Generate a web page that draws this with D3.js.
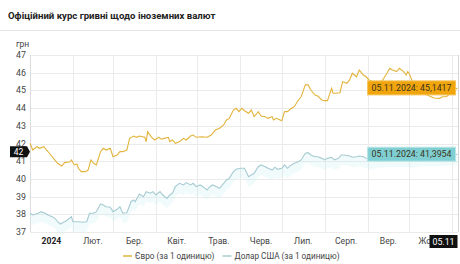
<!DOCTYPE html>
<html>
<head>
<meta charset="utf-8">
<script src="https://cdn.jsdelivr.net/npm/d3@7"></script>
<style>
  body { margin: 0; background: #fff; }
  svg { display: block; font-family: Roboto, "Noto Sans", sans-serif; }
</style>
</head>
<body>
<div id="chart"></div>
<script>
// офіційний курс НБУ, читано з графіка
const eurDates = ["01-01","01-03","01-06","01-08","01-11","01-13","01-15","01-18","01-21","01-24","01-26","01-30","01-31",
  "02-02","02-04","02-05","02-07","02-10","02-12","02-14","02-16","02-18","02-21","02-23","02-25","02-28",
  "03-01","03-04","03-06","03-08","03-11","03-13","03-16","03-18","03-20","03-24","03-25","03-26","03-29","03-31",
  "04-03","04-05","04-07","04-10","04-11","04-13","04-15","04-18","04-21","04-23","04-26","04-28","04-30",
  "05-04","05-08","05-11","05-14","05-17","05-20","05-22","05-24","05-27","05-29","05-31",
  "06-02","06-04","06-07","06-09","06-11","06-14","06-16","06-19","06-21","06-24","06-25","06-27",
  "07-01","07-03","07-05","07-08","07-10","07-13","07-15","07-18","07-20","07-22","07-25","07-27","07-30",
  "08-01","08-03","08-06","08-07","08-09","08-12","08-14","08-17","08-19","08-21","08-24","08-26","08-29","08-31",
  "09-02","09-05","09-08","09-11","09-15","09-17","09-19","09-22","09-24","09-27","09-29","09-30",
  "10-01","10-03","10-06","10-10","10-14","10-19","10-23","10-25","10-28","10-31","11-03","11-05"];
const eurValues = [42.01,41.63,41.82,41.73,41.82,41.63,41.45,41.16,40.88,40.73,40.92,40.97,41.07,
  40.79,40.84,40.60,40.41,40.41,40.50,41.07,40.88,40.79,41.54,41.73,41.63,41.73,
  41.25,41.35,41.54,41.54,41.63,42.29,42.42,42.35,42.42,42.35,42.10,42.67,42.35,42.20,
  42.35,42.24,42.29,42.35,42.10,42.20,42.01,42.10,42.29,42.20,42.42,42.48,42.35,
  42.38,42.35,42.48,42.76,42.86,43.05,43.33,43.42,43.89,43.99,43.80,
  43.99,43.85,43.71,43.89,43.51,43.80,43.55,43.51,43.42,43.51,43.33,43.42,
  43.29,43.80,43.80,43.99,44.08,44.46,44.64,45.31,45.31,45.02,44.74,44.68,44.46,
  44.42,44.42,45.12,44.84,44.84,44.87,45.49,45.40,45.59,45.97,45.77,46.15,45.87,45.77,
  45.59,45.49,45.36,45.47,45.97,46.25,46.15,46.06,46.25,46.06,45.87,46.06,
  45.97,45.59,45.14,44.91,44.74,44.57,44.55,44.64,44.64,44.84,45.02,45.1417];

const usdDates = ["01-01","01-03","01-07","01-09","01-12","01-14","01-17","01-19","01-21","01-23","01-26","01-28","01-31",
  "02-01","02-05","02-08","02-11","02-13","02-16","02-18","02-21","02-23","02-25","02-28",
  "03-01","03-04","03-06","03-08","03-11","03-14","03-16","03-17","03-19","03-20","03-23","03-25","03-28","03-30",
  "04-01","04-04","04-06","04-09","04-11","04-13","04-15","04-18","04-21","04-23","04-26","04-28","04-30",
  "05-03","05-05","05-08","05-10","05-12","05-15","05-17","05-20","05-22","05-24","05-27","05-29",
  "06-01","06-04","06-07","06-09","06-11","06-14","06-16","06-19","06-21","06-24","06-26","06-28",
  "07-01","07-03","07-05","07-08","07-10","07-13","07-15","07-18","07-20","07-22","07-25","07-27","07-30",
  "08-01","08-03","08-06","08-08","08-11","08-13","08-15","08-19","08-21","08-24","08-26","08-29","08-31",
  "09-02","09-09","09-17","09-25","10-03","10-11","10-19","10-27","11-05"];
const usdValues = [38.06,37.96,38.06,38.15,38.06,37.96,37.86,37.77,37.58,37.45,37.58,37.68,37.86,
  37.58,37.58,37.55,37.58,38.06,38.06,38.15,38.58,38.53,38.43,38.40,
  38.15,38.28,38.43,38.06,38.09,38.71,38.81,38.71,38.99,39.15,38.99,39.28,39.19,39.28,
  39.09,39.28,39.09,38.90,39.09,39.19,39.56,39.75,39.66,39.79,39.66,39.75,39.56,
  39.66,39.56,39.37,39.56,39.66,39.56,39.47,39.75,39.94,40.03,40.41,40.54,
  40.60,40.60,40.12,40.22,40.32,40.69,40.79,40.69,40.60,40.50,40.66,40.54,
  40.60,40.79,40.60,40.79,40.88,40.97,41.07,41.45,41.48,41.35,41.25,41.25,41.16,
  41.07,41.16,41.22,41.07,41.16,41.35,41.35,41.29,41.22,41.25,41.29,41.25,41.16,
  41.07,41.20,41.22,41.25,41.20,41.28,41.25,41.30,41.3954];

const monthLabels = ["2024","Лют.","Бер.","Квіт.","Трав.","Черв.","Лип.","Серп.","Вер.","Жовт."];
const yTicks = [37,38,39,40,41,42,43,44,45,46,47];
const seriesNames = ["Євро (за 1 одиницю)", "Долар США (за 1 одиницю)"];
const crosshairValue = 41.54;

const width = 460, height = 264;
const mLeft = 30, mRight = 457.5, mTop = 55, mBottom = 232;
const eurColor = "#e2b43c", usdColor = "#a6cbd2";

const parse = d3.timeParse("%Y-%m-%d");
const eur = eurDates.map((d, i) => ({date: parse("2024-" + d), v: eurValues[i]}));
const usd = usdDates.map((d, i) => ({date: parse("2024-" + d), v: usdValues[i]}));
const lastDate = parse("2024-11-05");

const x = d3.scaleTime().domain([parse("2024-01-01"), lastDate]).range([mLeft, mRight]);
const y = d3.scaleLinear().domain([37, 47]).range([mBottom, mTop]);

const svg = d3.select("#chart").append("svg")
    .attr("width", width).attr("height", height);

// title
svg.append("text")
    .attr("x", 8).attr("y", 19)
    .attr("font-size", 9.6).attr("font-weight", "bold").attr("fill", "#222")
    .text("Офіційний курс гривні щодо іноземних валют");
svg.append("line")
    .attr("x1", 0).attr("x2", width).attr("y1", 30.5).attr("y2", 30.5)
    .attr("stroke", "#e6e6e6");

// grid
const months = d3.timeMonth.range(parse("2024-01-01"), lastDate);
svg.append("g").selectAll("line")
  .data(yTicks).enter().append("line")
    .attr("x1", mLeft).attr("x2", mRight + 0.5)
    .attr("y1", d => Math.round(y(d)) + 0.5).attr("y2", d => Math.round(y(d)) + 0.5)
    .attr("stroke", "#ebebeb");
svg.append("g").selectAll("line")
  .data(months).enter().append("line")
    .attr("x1", d => Math.round(x(d)) + 0.5).attr("x2", d => Math.round(x(d)) + 0.5)
    .attr("y1", mTop).attr("y2", mBottom)
    .attr("stroke", (d, i) => i == 0 ? "#dcdcdc" : "#ebebeb");

// y labels
svg.append("text")
    .attr("x", 16).attr("y", 47)
    .attr("font-size", 8.5).attr("fill", "#444")
    .text("грн");
svg.append("g").selectAll("text")
  .data(yTicks).enter().append("text")
    .attr("x", 26).attr("y", d => y(d)).attr("dy", "0.35em")
    .attr("text-anchor", "end").attr("font-size", 8.8).attr("fill", "#444")
    .text(d => d);

// x labels (centred in month)
svg.append("g").selectAll("text")
  .data(months.slice(0, monthLabels.length)).enter().append("text")
    .attr("x", d => (x(d) + x(d3.timeMonth.offset(d, 1))) / 2)
    .attr("y", 244)
    .attr("text-anchor", "middle").attr("font-size", 8.6)
    .attr("font-weight", (d, i) => i == 0 ? "bold" : "normal")
    .attr("fill", (d, i) => i == 0 ? "#222" : "#444")
    .text((d, i) => monthLabels[i]);

// soft band under the dollar line
const band = d3.area().x(d => x(d.date)).y1(d => y(d.v)).y0(d => y(d.v) + 10);
svg.append("path").datum(usd).attr("d", band).attr("fill", "#c4ecf2").attr("opacity", 0.22);

// lines
const line = d3.line().x(d => x(d.date)).y(d => y(d.v));
svg.append("path").datum(usd).attr("d", line)
    .attr("fill", "none").attr("stroke", usdColor).attr("stroke-width", 1.1);
svg.append("path").datum(eur).attr("d", line)
    .attr("fill", "none").attr("stroke", eurColor).attr("stroke-width", 1.1);

// crosshair
svg.append("line")
    .attr("x1", Math.round(x(lastDate)) + 0.5).attr("x2", Math.round(x(lastDate)) + 0.5)
    .attr("y1", mTop).attr("y2", mBottom)
    .attr("stroke", "#d6d6d6");

// value tooltips
const fmt = v => d3.format(".4f")(v).replace(".", ",");
const fmtDate = d3.timeFormat("%d.%m.%Y");
function tip(data, fill, stroke) {
  const last = data[data.length - 1];
  const g = svg.append("g");
  const t = g.append("text")
      .attr("y", y(last.v)).attr("dy", "0.35em")
      .attr("font-size", 8.8).attr("fill", "#3a3320")
      .text(fmtDate(last.date) + ": " + fmt(last.v));
  const w = t.node().getComputedTextLength() + 8;
  const x1 = x(last.date) - 2;
  g.insert("rect", "text")
      .attr("x", x1 - w).attr("y", y(last.v) - 7)
      .attr("width", w).attr("height", 14)
      .attr("fill", fill).attr("stroke", stroke);
  t.attr("x", x1 - w + 4);
}
tip(eur, "#f0a50c", "#f6c35a");
tip(usd, "#7fcfd2", "#b9e5e7");

// crosshair labels
const cy = y(crosshairValue);
svg.append("path")
    .attr("d", `M10,${cy - 5.5}H27L30,${cy}L27,${cy + 5.5}H10Z`)
    .attr("fill", "#111");
svg.append("text")
    .attr("x", 18.5).attr("y", cy).attr("dy", "0.35em")
    .attr("text-anchor", "middle").attr("font-size", 8.5).attr("fill", "#fff")
    .text(d3.format(".0f")(crosshairValue));
svg.append("rect")
    .attr("x", x(lastDate) - 28).attr("y", 235)
    .attr("width", 28).attr("height", 13).attr("fill", "#111");
svg.append("text")
    .attr("x", x(lastDate) - 14).attr("y", 241.5).attr("dy", "0.35em")
    .attr("text-anchor", "middle").attr("font-size", 8.8).attr("fill", "#fff")
    .text(d3.timeFormat("%d.%m")(lastDate));

// legend, laid out from measured text widths and centred
const legend = svg.append("g").attr("font-size", 8.2).attr("fill", "#444");
let lxPos = 0;
[eurColor, usdColor].forEach(function(c, i) {
  legend.append("line")
      .attr("x1", lxPos).attr("x2", lxPos + 9).attr("y1", 256).attr("y2", 256)
      .attr("stroke", c).attr("stroke-width", 1.5);
  const t = legend.append("text")
      .attr("x", lxPos + 12).attr("y", 256).attr("dy", "0.35em")
      .text(seriesNames[i]);
  lxPos += 12 + t.node().getComputedTextLength() + 8;
});
legend.attr("transform", "translate(" + Math.round(231 - (lxPos - 8) / 2) + ",0)");
</script>
</body>
</html>
